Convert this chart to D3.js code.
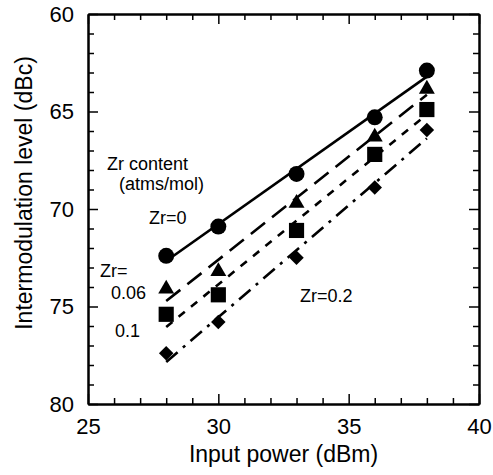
<!DOCTYPE html>
<html>
<head>
	<script src="https://d3js.org/d3.v7.min.js"></script>
	<style>
		body { margin: 0; background: #fff; }
		text { font-family: "Liberation Sans", Arial, sans-serif; fill: #000; }
	</style>
</head>
<body>
	<script>
		// input power (dBm)
		var power = [28, 30, 33, 36, 38];
		// intermodulation level (dBc) for each Zr content
		var zr0 = [72.4, 70.9, 68.2, 65.3, 62.9];
		var zr006 = [74.1, 73.2, 69.7, 66.3, 63.85];
		var zr01 = [75.4, 74.4, 71.1, 67.2, 64.9];
		var zr02 = [77.4, 75.8, 72.5, 68.9, 65.95];
		var xTicks = [25, 30, 35, 40];
		var yTicks = [60, 65, 70, 75, 80];

		var series = [
			{name: "0", values: zr0, symbol: d3.symbolCircle, size: 200, rot: 0, dash: null},
			{name: "0.06", values: zr006, symbol: d3.symbolTriangle, size: 110, rot: 0, dash: "18,9"},
			{name: "0.1", values: zr01, symbol: d3.symbolSquare, size: 230, rot: 0, dash: "8,8"},
			{name: "0.2", values: zr02, symbol: d3.symbolSquare, size: 105, rot: 45, dash: "15,7,3,7"}
		];

		var svgWidth = 493, svgHeight = 475,
			margin = {top: 14, right: 14, bottom: 71, left: 88},
			width = svgWidth - margin.left - margin.right,
			height = svgHeight - margin.top - margin.bottom;

		var svg = d3.select("body").append("svg")
			.attr("width", svgWidth)
			.attr("height", svgHeight);
		var g = svg.append("g")
			.attr("transform", "translate(" + margin.left + "," + margin.top + ")");

		var x = d3.scaleLinear().domain([25, 40]).range([0, width]);
		var y = d3.scaleLinear().domain([60, 80]).range([0, height]);

		// frame with inward ticks on all four sides
		function ticks(axis, tr) {
			var a = g.append("g").attr("transform", tr);
			a.call(axis);
			a.select(".domain").attr("stroke-width", 2);
			a.selectAll(".tick line").attr("stroke-width", 1.5);
			return a;
		}
		var minorX = d3.range(25, 41, 1).filter(function(v) { return v % 5 !== 0; });
		var minorY = d3.range(60, 81, 1).filter(function(v) { return v % 5 !== 0; });

		var bx = ticks(d3.axisBottom(x).tickValues(xTicks).tickSizeInner(-10).tickSizeOuter(0).tickPadding(14), "translate(0," + height + ")");
		bx.selectAll("text").attr("font-size", 22);
		ticks(d3.axisBottom(x).tickValues(minorX).tickSizeInner(-6).tickSizeOuter(0).tickFormat(""), "translate(0," + height + ")");
		ticks(d3.axisTop(x).tickValues(xTicks).tickSizeInner(-10).tickSizeOuter(0).tickFormat(""), "translate(0,0)");
		ticks(d3.axisTop(x).tickValues(minorX).tickSizeInner(-6).tickSizeOuter(0).tickFormat(""), "translate(0,0)");

		var ly = ticks(d3.axisLeft(y).tickValues(yTicks).tickSizeInner(-10).tickSizeOuter(0).tickPadding(14), "translate(0,0)");
		ly.selectAll("text").attr("font-size", 22);
		ticks(d3.axisLeft(y).tickValues(minorY).tickSizeInner(-6).tickSizeOuter(0).tickFormat(""), "translate(0,0)");
		ticks(d3.axisRight(y).tickValues(yTicks).tickSizeInner(-10).tickSizeOuter(0).tickFormat(""), "translate(" + width + ",0)");
		ticks(d3.axisRight(y).tickValues(minorY).tickSizeInner(-6).tickSizeOuter(0).tickFormat(""), "translate(" + width + ",0)");

		// least-squares fit line for each series
		function fit(vals) {
			var mx = d3.mean(power), my = d3.mean(vals);
			var sxy = d3.sum(power, function(p, i) { return (p - mx) * (vals[i] - my); });
			var sxx = d3.sum(power, function(p) { return (p - mx) * (p - mx); });
			var b = sxy / sxx;
			var x0 = power[0], x1 = power[power.length - 1];
			return [[x0, my + b * (x0 - mx)], [x1, my + b * (x1 - mx)]];
		}
		var line = d3.line()
			.x(function(d) { return x(d[0]); })
			.y(function(d) { return y(d[1]); });

		series.forEach(function(s) {
			g.append("path")
				.attr("d", line(fit(s.values)))
				.attr("fill", "none")
				.attr("stroke", "#000")
				.attr("stroke-width", 2.6)
				.attr("stroke-dasharray", s.dash);
			g.selectAll(null)
				.data(s.values)
				.enter().append("path")
				.attr("d", d3.symbol().type(s.symbol).size(s.size))
				.attr("transform", function(d, i) { return "translate(" + x(power[i]) + "," + y(d) + ") rotate(" + s.rot + ")"; })
				.attr("fill", "#000");
		});

		// annotations
		var notes = [
			{t: "Zr content", x: 107, y: 170},
			{t: "(atms/mol)", x: 119, y: 190},
			{t: "Zr=0", x: 149, y: 224},
			{t: "Zr=", x: 100, y: 277},
			{t: "0.06", x: 111, y: 299},
			{t: "0.1", x: 115, y: 337},
			{t: "Zr=0.2", x: 300, y: 302}
		];
		svg.selectAll(".note")
			.data(notes)
			.enter().append("text")
			.attr("class", "note")
			.attr("x", function(d) { return d.x; })
			.attr("y", function(d) { return d.y; })
			.attr("font-size", 18)
			.text(function(d) { return d.t; });

		svg.append("text")
			.attr("x", margin.left + width / 2)
			.attr("y", 462)
			.attr("text-anchor", "middle")
			.attr("font-size", 23)
			.text("Input power (dBm)");
		svg.append("text")
			.attr("transform", "translate(32,193) rotate(-90)")
			.attr("text-anchor", "middle")
			.attr("font-size", 23)
			.text("Intermodulation level (dBc)");
	</script>
</body>
</html>
